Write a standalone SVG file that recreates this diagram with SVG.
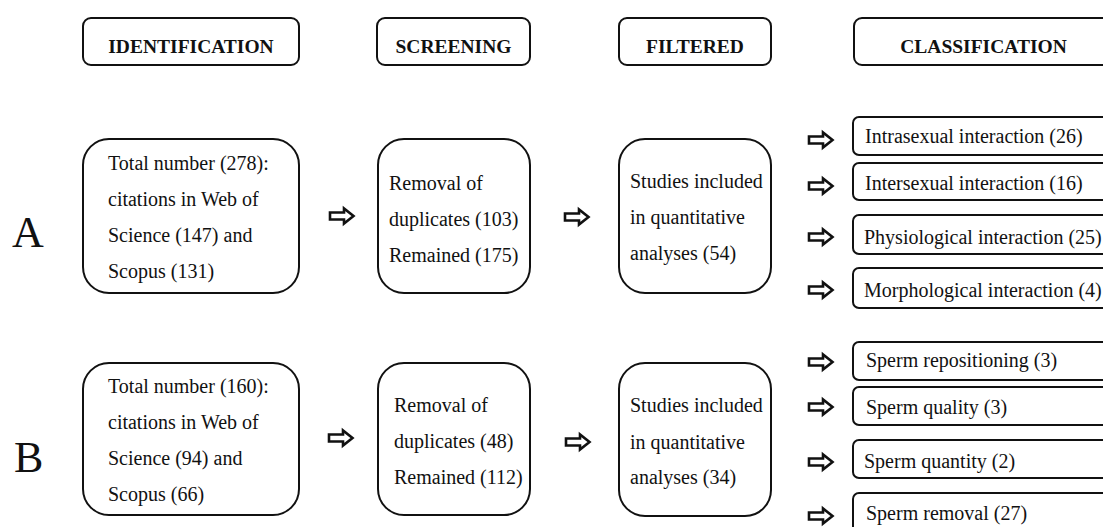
<svg xmlns="http://www.w3.org/2000/svg" width="1103" height="527" viewBox="0 0 1103 527">
<style>
.box{fill:#fff;stroke:#111;stroke-width:2}
.hd{font-family:"Liberation Serif","Times New Roman",serif;font-size:19.5px;font-weight:bold;fill:#111;text-anchor:middle}
.tx{font-family:"Liberation Serif","Times New Roman",serif;font-size:20px;fill:#111}
.big{font-family:"Liberation Serif","Times New Roman",serif;font-size:44px;fill:#111}
.arr{fill:#fff;stroke:#111;stroke-width:2.6;stroke-linejoin:miter}
</style>
<defs>
<path id="arrow" class="arr" d="M1,-3.5 L15,-3.5 L15,-7.5 L24.5,0 L15,7.5 L15,3.5 L1,3.5 Z"/>
</defs>
<rect width="1103" height="527" fill="#fff"/>

<g id="hdr-identification"><rect class="box" x="83" y="18" width="216" height="47" rx="8"/><text class="hd" x="191" y="53">IDENTIFICATION</text></g>
<g id="hdr-screening"><rect class="box" x="377" y="18" width="153" height="47" rx="8"/><text class="hd" x="453.5" y="53">SCREENING</text></g>
<g id="hdr-filtered"><rect class="box" x="619" y="18" width="152" height="47" rx="8"/><text class="hd" x="695" y="53">FILTERED</text></g>
<g id="hdr-classification"><rect class="box" x="854" y="18" width="260" height="47" rx="8"/><text class="hd" x="983.5" y="53">CLASSIFICATION</text></g>

<g id="label-A"><text class="big" x="12" y="247">A</text></g>
<g id="label-B"><text class="big" x="14" y="472">B</text></g>

<g id="A-identification"><rect class="box" x="83" y="139" width="216" height="154" rx="26"/>
<text class="tx" x="108" y="170">Total number (278):</text>
<text class="tx" x="108" y="206">citations in Web of</text>
<text class="tx" x="108" y="242">Science (147) and</text>
<text class="tx" x="108" y="278">Scopus (131)</text></g>
<g id="A-screening"><rect class="box" x="378" y="139" width="152" height="154" rx="26"/>
<text class="tx" x="389" y="190">Removal of</text>
<text class="tx" x="389" y="226">duplicates (103)</text>
<text class="tx" x="389" y="262">Remained (175)</text></g>
<g id="A-filtered"><rect class="box" x="619" y="139" width="152" height="154" rx="26"/>
<text class="tx" x="630" y="188">Studies included</text>
<text class="tx" x="630" y="224">in quantitative</text>
<text class="tx" x="630" y="260">analyses (54)</text></g>
<g id="A-c1"><rect class="box" x="853" y="117" width="260" height="38" rx="6"/><text class="tx" x="865" y="143">Intrasexual interaction (26)</text></g>
<g id="A-c2"><rect class="box" x="853" y="163" width="260" height="37" rx="6"/><text class="tx" x="865" y="190">Intersexual interaction (16)</text></g>
<g id="A-c3"><rect class="box" x="853" y="215" width="260" height="39" rx="6"/><text class="tx" x="864" y="244">Physiological interaction (25)</text></g>
<g id="A-c4"><rect class="box" x="853" y="268" width="260" height="40" rx="6"/><text class="tx" x="864" y="297">Morphological interaction (4)</text></g>

<g id="B-identification"><rect class="box" x="83" y="363" width="216" height="152" rx="26"/>
<text class="tx" x="108" y="393">Total number (160):</text>
<text class="tx" x="108" y="429">citations in Web of</text>
<text class="tx" x="108" y="465">Science (94) and</text>
<text class="tx" x="108" y="501">Scopus (66)</text></g>
<g id="B-screening"><rect class="box" x="378" y="363" width="152" height="152" rx="26"/>
<text class="tx" x="394" y="412">Removal of</text>
<text class="tx" x="394" y="448">duplicates (48)</text>
<text class="tx" x="394" y="484">Remained (112)</text></g>
<g id="B-filtered"><rect class="box" x="619" y="363" width="152" height="153" rx="26"/>
<text class="tx" x="630" y="412">Studies included</text>
<text class="tx" x="630" y="449">in quantitative</text>
<text class="tx" x="630" y="484">analyses (34)</text></g>
<g id="B-c1"><rect class="box" x="853" y="342" width="260" height="38" rx="6"/><text class="tx" x="866" y="367">Sperm repositioning (3)</text></g>
<g id="B-c2"><rect class="box" x="853" y="387" width="260" height="38" rx="6"/><text class="tx" x="866" y="414">Sperm quality (3)</text></g>
<g id="B-c3"><rect class="box" x="853" y="440" width="260" height="38" rx="6"/><text class="tx" x="864" y="468">Sperm quantity (2)</text></g>
<g id="B-c4"><rect class="box" x="853" y="493" width="260" height="40" rx="6"/><text class="tx" x="866" y="520">Sperm removal (27)</text></g>

<g id="connectors">
<use href="#arrow" transform="translate(329,216)"/>
<use href="#arrow" transform="translate(564,217)"/>
<use href="#arrow" transform="translate(808,140)"/>
<use href="#arrow" transform="translate(808,186)"/>
<use href="#arrow" transform="translate(808,237)"/>
<use href="#arrow" transform="translate(808,290)"/>
<use href="#arrow" transform="translate(328,438)"/>
<use href="#arrow" transform="translate(565,442)"/>
<use href="#arrow" transform="translate(808,362)"/>
<use href="#arrow" transform="translate(808,407)"/>
<use href="#arrow" transform="translate(808,462)"/>
<use href="#arrow" transform="translate(808,516)"/>
</g>
</svg>
